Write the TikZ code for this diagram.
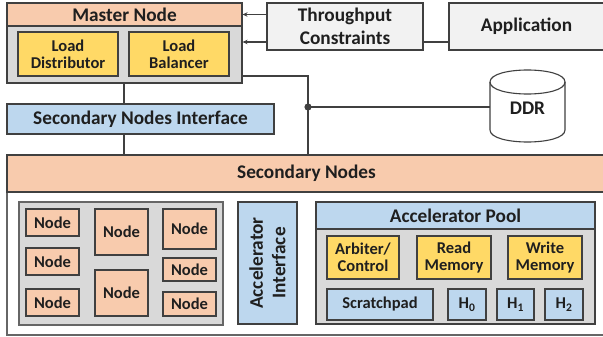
\documentclass[tikz,border=0pt]{standalone}
\usepackage{fontspec}
\setmainfont{Carlito}
\usetikzlibrary{arrows.meta}
\definecolor{peach}{HTML}{F8CBAD}
\definecolor{graybg}{HTML}{D9D9D9}
\definecolor{yel}{HTML}{FFD966}
\definecolor{blu}{HTML}{BDD7EE}
\definecolor{lgray}{HTML}{F2F2F2}
\definecolor{edge}{HTML}{404040}
\definecolor{txt}{HTML}{1F1F1F}
\newcommand{\bigf}{\fontsize{19.3}{22.5}\selectfont\bfseries}
\newcommand{\smf}{\fontsize{16.5}{16.8}\selectfont\bfseries}
\begin{document}
\begin{tikzpicture}[x=1pt,y=-1pt,
  box/.style={draw=edge, line width=1.1pt, align=center, inner sep=0pt, text=txt, font=\smf},
  bigbox/.style={box, font=\bigf},
  lbl/.style={inner sep=0pt, text=txt, align=center, font=\bigf},
  wire/.style={draw=edge, line width=1.1pt},
  arr/.style={wire, -{Stealth[length=5pt,width=4.5pt]}}]
\useasboundingbox (0,0) rectangle (603,337);
% Master node
\node[bigbox, fill=graybg, minimum width=235, minimum height=57] (mbody) at (124.5,54.5) {};
\node[bigbox, fill=peach, minimum width=235, minimum height=23] (mhead) at (124.5,14.5) {Master Node};
\node[box, fill=yel, minimum width=100, minimum height=44] (ld) at (68,54) {Load\\Distributor};
\node[box, fill=yel, minimum width=100, minimum height=44] (lb) at (179,54) {Load\\Balancer};
% Throughput, Application
\node[bigbox, fill=lgray, minimum width=156, minimum height=47] (tc) at (345,26.5) {Throughput\\Constraints};
\node[bigbox, fill=lgray, minimum width=161, minimum height=47] (app) at (529.5,26.5) {};
\node[lbl] (appt) at (526.5,26.5) {Application};
% Secondary nodes interface
\node[bigbox, fill=blu, minimum width=267, minimum height=30] (sni) at (140.5,119) {Secondary Nodes Interface};
% DDR
\node[inner sep=0pt, minimum width=75, minimum height=72] (ddr) at (527.5,106) {};
\draw[wire, fill=white] (490,82) -- (490,130) .. controls (490,146) and (565,146) .. (565,130)
  -- (565,82) .. controls (565,66) and (490,66) .. (490,82) -- cycle;
\draw[wire] (490,82) .. controls (490,98) and (565,98) .. (565,82);
\node[lbl] (ddrt) at (527.5,108) {DDR};
% Secondary nodes
\node[box, draw=edge!80, fill=white, minimum width=599, minimum height=143] (sbody) at (306.5,263.5) {};
\node[bigbox, fill=peach, minimum width=599, minimum height=37] (shead) at (306.5,173.5) {Secondary Nodes};
\node[box, draw=edge!80, fill=graybg, minimum width=204, minimum height=123] (narea) at (121,263.5) {};
\node[box, fill=peach, minimum width=53, minimum height=27] (n1) at (52.5,222.5) {Node};
\node[box, fill=peach, minimum width=53, minimum height=27] (n2) at (52.5,261.5) {Node};
\node[box, fill=peach, minimum width=53, minimum height=27] (n3) at (52.5,302.5) {Node};
\node[box, fill=peach, minimum width=53, minimum height=46] (n4) at (121.5,232) {Node};
\node[box, fill=peach, minimum width=53, minimum height=46] (n5) at (121.5,293) {Node};
\node[box, fill=peach, minimum width=53, minimum height=40] (n6) at (189.5,229) {Node};
\node[box, fill=peach, minimum width=53, minimum height=23] (n7) at (189.5,269.5) {Node};
\node[box, fill=peach, minimum width=53, minimum height=24] (n8) at (189.5,304) {Node};
\node[bigbox, fill=blu, minimum width=59, minimum height=122] (ai) at (267.5,263) {};
\node[lbl, rotate=90] (ait) at (ai.center) {Accelerator\\Interface};
% Accelerator pool
\node[box, fill=graybg, minimum width=279, minimum height=122] (pool) at (455.5,263) {};
\node[bigbox, fill=blu, minimum width=279, minimum height=27] (phead) at (455.5,215.5) {Accelerator Pool};
\node[box, fill=yel, minimum width=72, minimum height=43] (arb) at (363,257.5) {Arbiter/\\Control};
\node[box, fill=yel, minimum width=74, minimum height=43] (rm) at (454,257.5) {Read\\Memory};
\node[box, fill=yel, minimum width=74, minimum height=43] (wm) at (545,257.5) {Write\\Memory};
\node[box, fill=blu, minimum width=106, minimum height=31] (sp) at (380,304.5) {Scratchpad};
\node[box, fill=blu, minimum width=38, minimum height=31] (h0) at (467,304.5) {H\textsubscript{0}};
\node[box, fill=blu, minimum width=37, minimum height=31] (h1) at (515.5,304.5) {H\textsubscript{1}};
\node[box, fill=blu, minimum width=38, minimum height=31] (h2) at (564,304.5) {H\textsubscript{2}};
% Connectors
\draw[arr] (tc.west |- mhead.east) -- (mhead.east);
\draw[arr] (tc.west |- 0,42) -- (mbody.east |- 0,42);
\draw[wire] (tc.east |- 0,42) -- (app.west |- 0,42);
\coordinate (jn) at (308,107);
\draw[wire] (mbody.east |- 0,76) -| (jn) -- (jn |- shead.north);
\draw[wire] (jn) -- (jn -| ddr.west);
\fill[edge] (jn) circle (3.6);
\draw[wire] (mbody.south -| 124,0) -- (sni.north -| 124,0);
\draw[wire] (sni.south -| 124,0) -- (shead.north -| 124,0);
\end{tikzpicture}
\end{document}
